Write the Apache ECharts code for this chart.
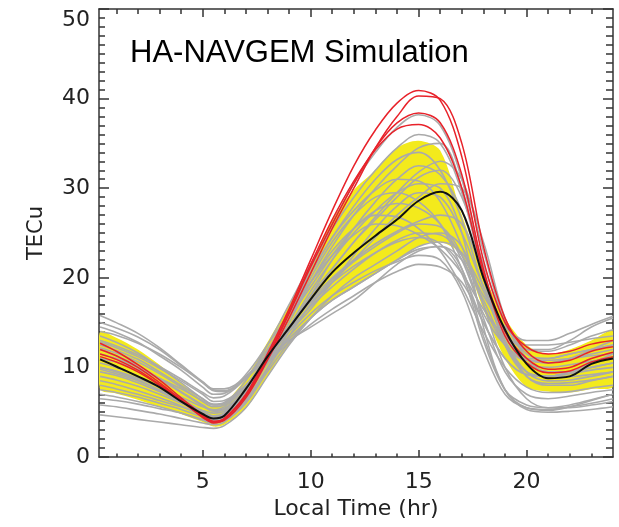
<!doctype html>
<html>
<head>
<meta charset="UTF-8">
<title>HA-NAVGEM Simulation</title>
<style>
  html, body { margin: 0; padding: 0; background: #fff; }
  #main { width: 619px; height: 527px; }
</style>
</head>
<body>
<div id="main"></div>
<script src="https://cdn.jsdelivr.net/npm/echarts@6.0.0/dist/echarts.min.js"></script>
<script>
// local time samples (hr) shared by every run
var hours = [0.25, 1, 2, 3, 4, 5, 5.5, 6, 7, 8, 9, 10, 11, 12, 13, 14, 15, 16, 17, 18, 19, 20, 21, 22, 23, 24];

var xMajorTicks = [5, 10, 15, 20];
var xMinorTicks = [1, 2, 3, 4, 6, 7, 8, 9, 11, 12, 13, 14, 16, 17, 18, 19, 21, 22, 23];

// ensemble mean (black)
var meanTec = [10.9, 10.1, 9.0, 7.8, 6.2, 4.8, 4.3, 4.6, 7.6, 11.2, 14.4, 17.6, 20.6, 22.8, 24.7, 26.5, 28.6, 29.6, 27.5, 20.0, 14.2, 10.4, 8.8, 9.0, 10.4, 11.0];

// yellow spread band
var bandLow = [7.6, 7.1, 6.4, 5.6, 4.8, 3.9, 3.4, 3.6, 5.4, 9.0, 12.5, 15.5, 17.5, 19.0, 20.5, 22.0, 23.5, 24.0, 22.5, 16.5, 11.0, 7.8, 7.3, 7.2, 7.6, 7.9];
var bandHigh = [14.0, 13.3, 12.0, 10.3, 8.3, 6.3, 5.6, 6.0, 8.8, 12.8, 17.0, 21.5, 26.5, 29.8, 32.0, 34.5, 35.3, 34.2, 27.0, 20.5, 15.5, 12.5, 11.5, 12.0, 13.0, 14.0];

// red members
var red1 = [12.7, 11.8, 10.3, 8.6, 6.6, 4.7, 4.0, 4.3, 7.0, 11.5, 16.5, 22.0, 27.5, 32.5, 36.5, 39.5, 40.9, 39.8, 33.5, 22.0, 15.0, 12.3, 11.5, 11.8, 12.6, 13.0];
var red2 = [11.2, 10.6, 9.5, 8.0, 6.3, 4.6, 3.9, 4.1, 6.6, 10.8, 15.5, 20.5, 25.5, 30.0, 34.5, 38.0, 40.3, 40.0, 35.0, 23.5, 15.5, 11.8, 10.5, 10.8, 11.8, 12.3];
var red3 = [12.0, 11.3, 10.0, 8.3, 6.4, 4.5, 3.8, 4.2, 6.8, 11.0, 16.0, 21.2, 26.0, 30.5, 34.5, 37.3, 38.4, 37.3, 31.5, 21.0, 14.0, 11.0, 9.8, 10.0, 11.0, 11.7];
var red4 = [11.5, 10.9, 9.7, 8.1, 6.3, 4.4, 3.9, 4.3, 6.9, 11.2, 16.2, 21.5, 26.5, 30.8, 34.3, 36.6, 37.1, 35.6, 30.0, 20.5, 13.5, 10.5, 9.4, 9.6, 10.6, 11.2];

// gray members
var gray01 = [15.8, 15.0, 13.8, 12.2, 10.3, 8.4, 7.6, 7.6, 9.0, 11.5, 14.0, 16.5, 19.5, 22.5, 25.5, 28.0, 29.5, 29.0, 25.0, 19.0, 14.0, 12.0, 12.0, 13.0, 14.5, 15.5];
var gray02 = [15.0, 14.4, 13.4, 12.0, 10.2, 8.3, 7.5, 7.4, 8.8, 11.0, 13.0, 14.5, 16.0, 17.5, 19.5, 21.5, 23.0, 23.5, 22.0, 17.5, 12.5, 9.5, 9.0, 9.5, 10.5, 11.5];
var gray03 = [4.7, 4.5, 4.2, 3.9, 3.6, 3.3, 3.2, 3.5, 5.5, 9.0, 12.5, 15.5, 18.0, 20.0, 21.5, 23.0, 24.5, 25.0, 23.5, 17.0, 10.0, 6.5, 5.5, 5.5, 5.8, 6.2];
var gray04 = [6.5, 6.3, 5.9, 5.4, 4.9, 4.2, 3.9, 4.2, 6.4, 10.0, 14.0, 18.0, 22.0, 25.5, 28.5, 31.0, 32.5, 31.5, 27.5, 20.0, 13.0, 9.0, 8.0, 8.0, 8.5, 9.0];
var gray05 = [13.5, 12.8, 11.6, 10.0, 8.3, 6.5, 5.8, 6.0, 8.5, 12.5, 17.0, 21.5, 25.5, 29.0, 32.0, 34.5, 36.0, 35.0, 29.5, 20.5, 14.0, 11.0, 10.5, 11.0, 12.0, 13.0];
var gray06 = [9.5, 9.1, 8.3, 7.3, 6.2, 5.2, 4.9, 5.1, 7.5, 11.5, 15.5, 19.5, 23.0, 25.5, 27.0, 26.8, 25.5, 23.0, 19.0, 14.0, 10.0, 7.8, 7.2, 7.3, 7.7, 8.0];
var gray07 = [12.0, 11.3, 10.2, 8.8, 7.3, 5.8, 5.2, 5.4, 7.5, 10.8, 14.0, 17.0, 19.5, 22.0, 24.5, 27.0, 29.0, 30.5, 30.0, 24.0, 15.5, 11.0, 9.5, 9.5, 10.0, 10.5];
var gray08 = [8.0, 7.6, 7.0, 6.3, 5.6, 4.8, 4.5, 4.8, 7.0, 10.5, 13.5, 16.0, 18.0, 19.5, 20.8, 21.8, 22.5, 22.0, 18.5, 12.0, 7.0, 5.5, 5.3, 5.6, 6.0, 6.5];
var gray09 = [10.5, 10.0, 9.0, 7.8, 6.5, 5.1, 4.6, 4.9, 7.5, 11.8, 16.2, 20.5, 24.5, 28.0, 31.0, 33.2, 34.0, 32.0, 26.5, 19.0, 13.5, 11.0, 10.5, 11.0, 11.5, 12.0];
var gray10 = [11.0, 10.6, 9.8, 8.8, 7.6, 6.3, 5.8, 6.0, 7.8, 10.5, 13.2, 15.5, 17.5, 19.0, 20.5, 22.0, 23.5, 24.0, 22.8, 18.5, 13.0, 9.5, 8.5, 8.6, 9.0, 9.5];
var gray11 = [13.0, 12.4, 11.4, 10.1, 8.7, 7.2, 6.6, 6.8, 8.8, 12.0, 15.5, 19.0, 22.5, 25.5, 27.5, 28.3, 27.8, 26.0, 22.0, 16.0, 12.5, 11.0, 11.0, 11.5, 12.0, 12.5];
var gray12 = [7.0, 6.7, 6.2, 5.6, 4.9, 4.1, 3.8, 4.1, 6.2, 9.8, 13.5, 17.0, 19.8, 21.8, 23.5, 25.0, 26.0, 25.7, 22.5, 15.5, 9.5, 7.0, 6.5, 6.8, 7.2, 7.5];
var gray13 = [12.5, 11.9, 10.9, 9.5, 8.0, 6.5, 5.9, 6.1, 8.0, 11.0, 14.5, 18.0, 21.0, 24.0, 26.5, 29.0, 31.2, 32.0, 29.0, 21.5, 15.0, 12.0, 11.8, 12.5, 13.5, 14.2];
var gray14 = [9.0, 8.6, 7.9, 7.0, 6.0, 4.8, 4.3, 4.6, 7.0, 11.0, 15.5, 20.0, 24.0, 27.0, 29.0, 29.5, 28.5, 26.0, 21.0, 15.0, 11.0, 9.2, 9.0, 9.3, 9.7, 10.0];
var gray15 = [5.8, 5.6, 5.2, 4.8, 4.3, 3.8, 3.6, 3.9, 6.0, 9.5, 12.8, 15.5, 17.5, 19.0, 20.5, 22.0, 23.2, 23.5, 21.0, 13.5, 7.5, 5.3, 5.0, 5.1, 5.3, 5.6];
var gray16 = [14.0, 13.6, 12.7, 11.5, 10.0, 8.3, 7.4, 7.3, 8.8, 11.5, 14.2, 16.8, 19.0, 21.0, 22.8, 24.2, 25.0, 24.8, 22.5, 18.0, 14.5, 13.0, 13.0, 13.8, 14.8, 15.7];
var gray17 = [10.0, 9.5, 8.6, 7.4, 6.1, 4.8, 4.4, 4.7, 7.2, 11.5, 16.0, 21.0, 26.0, 30.5, 34.0, 36.8, 38.2, 37.0, 31.0, 21.0, 13.5, 10.5, 10.0, 10.3, 10.7, 11.0];
var gray18 = [11.5, 11.0, 10.0, 8.7, 7.2, 5.7, 5.1, 5.3, 7.5, 11.0, 14.5, 17.5, 20.0, 22.0, 23.8, 25.2, 26.3, 27.0, 26.0, 20.0, 12.5, 9.0, 8.2, 8.3, 8.6, 9.0];
var gray19 = [8.5, 8.1, 7.4, 6.6, 5.7, 4.6, 4.1, 4.4, 6.7, 10.5, 14.5, 18.5, 22.0, 25.0, 27.5, 29.5, 30.5, 30.0, 25.0, 14.5, 7.5, 5.5, 5.2, 5.6, 6.3, 7.0];
var gray20 = [12.8, 12.2, 11.2, 9.9, 8.5, 7.0, 6.2, 6.3, 8.0, 10.5, 12.8, 14.8, 16.5, 18.0, 19.5, 20.7, 21.5, 21.2, 19.5, 15.0, 11.0, 9.2, 9.0, 9.5, 10.0, 10.5];
var gray21 = [10.0, 9.6, 8.8, 7.8, 6.7, 5.6, 5.3, 5.6, 7.8, 11.0, 14.5, 18.0, 21.0, 24.0, 26.8, 29.5, 31.8, 33.0, 31.0, 23.0, 15.0, 11.5, 11.0, 11.5, 12.0, 12.5];
var gray22 = [14.5, 13.9, 12.8, 11.3, 9.7, 7.8, 7.0, 7.1, 9.2, 12.5, 16.0, 19.5, 22.5, 24.8, 26.0, 25.8, 24.8, 23.2, 20.5, 16.5, 13.5, 12.5, 12.5, 12.8, 13.2, 13.5];
var gray23 = [7.5, 7.2, 6.7, 6.0, 5.3, 4.5, 4.2, 4.5, 6.8, 10.8, 15.0, 19.5, 23.5, 27.0, 30.0, 32.5, 34.5, 35.0, 30.0, 20.0, 12.5, 9.5, 9.0, 9.0, 9.2, 9.5];
var gray24 = [12.2, 11.6, 10.6, 9.3, 7.8, 6.2, 5.6, 5.8, 8.0, 11.3, 14.5, 17.3, 19.5, 21.3, 22.8, 24.0, 24.5, 23.8, 20.5, 13.0, 7.5, 5.8, 5.5, 5.8, 6.4, 7.0];
var gray25 = [9.8, 9.3, 8.5, 7.5, 6.3, 5.0, 4.6, 4.9, 7.4, 11.5, 16.0, 20.5, 24.5, 27.5, 29.8, 31.0, 30.8, 28.5, 23.5, 17.0, 12.5, 10.8, 10.8, 11.0, 11.3, 11.5];

var grayRuns = [gray01, gray02, gray03, gray04, gray05, gray06, gray07, gray08, gray09, gray10,
                gray11, gray12, gray13, gray14, gray15, gray16, gray17, gray18, gray19, gray20,
                gray21, gray22, gray23, gray24, gray25];
var redRuns = [red1, red2, red3, red4];

var FONT = 'DejaVu Sans';
var AXIS_COLOR = '#333';

function pairs(vals) {
  return hours.map(function (h, i) { return [h, vals[i]]; });
}

function run(vals, color, width) {
  return {
    type: 'line',
    data: pairs(vals),
    smooth: 0.35,
    symbol: 'none',
    silent: true,
    lineStyle: { color: color, width: width }
  };
}

var series = [];
// yellow band as one closed polygon: upper edge forward, lower edge back
series.push({
  type: 'custom',
  silent: true,
  clip: true,
  data: [[hours[0], bandLow[0]]],
  renderItem: function (params, api) {
    var pts = [];
    for (var i = 0; i < hours.length; i++) pts.push(api.coord([hours[i], bandHigh[i]]));
    for (var j = hours.length - 1; j >= 0; j--) pts.push(api.coord([hours[j], bandLow[j]]));
    return {
      type: 'polygon',
      shape: { points: pts, smooth: 0.3 },
      style: { fill: '#f3ea1c', stroke: null }
    };
  }
});
grayRuns.forEach(function (r) { series.push(run(r, '#aaaaaa', 1.6)); });
redRuns.forEach(function (r) { series.push(run(r, '#e8222a', 1.5)); });
series.push(run(meanTec, '#111111', 2));

var myChart = echarts.init(document.getElementById('main'), null, { renderer: 'canvas' });

var option = {
  animation: false,
  backgroundColor: '#fff',
  grid: { left: 99, right: 6, top: 9, bottom: 70 },
  xAxis: [
    {
      type: 'value', position: 'bottom', min: 0.2, max: 24,
      axisLine: { lineStyle: { color: AXIS_COLOR, width: 1.5 } },
      axisTick: { inside: true, length: 7, customValues: xMajorTicks, lineStyle: { color: AXIS_COLOR, width: 1.5 } },
      axisLabel: { customValues: xMajorTicks, margin: 14, fontSize: 22, fontFamily: FONT, color: '#222' },
      splitLine: { show: false },
      name: 'Local Time (hr)', nameLocation: 'middle', nameGap: 40,
      nameTextStyle: { fontSize: 22, fontFamily: FONT, color: '#222' }
    },
    {
      type: 'value', position: 'bottom', min: 0.2, max: 24,
      axisLine: { show: false },
      axisTick: { inside: true, length: 3.5, customValues: xMinorTicks, lineStyle: { color: AXIS_COLOR, width: 1.5 } },
      axisLabel: { show: false },
      splitLine: { show: false }
    },
    {
      type: 'value', position: 'top', min: 0.2, max: 24,
      axisLine: { lineStyle: { color: AXIS_COLOR, width: 1.5 } },
      axisTick: { inside: true, length: 8, customValues: xMajorTicks, lineStyle: { color: AXIS_COLOR, width: 1.5 } },
      axisLabel: { show: false },
      splitLine: { show: false }
    },
    {
      type: 'value', position: 'top', min: 0.2, max: 24,
      axisLine: { show: false },
      axisTick: { inside: true, length: 5, customValues: xMinorTicks, lineStyle: { color: AXIS_COLOR, width: 1.5 } },
      axisLabel: { show: false },
      splitLine: { show: false }
    }
  ],
  yAxis: [
    {
      type: 'value', position: 'left', min: 0, max: 50, interval: 10,
      axisLine: { show: true, lineStyle: { color: AXIS_COLOR, width: 1.5 } },
      axisTick: { show: true, inside: true, length: 10, lineStyle: { color: AXIS_COLOR, width: 1.5 } },
      minorTick: { show: true, splitNumber: 10, length: 6, lineStyle: { color: AXIS_COLOR, width: 1.5 } },
      axisLabel: { margin: 9, fontSize: 22, fontFamily: FONT, color: '#222', verticalAlignMaxLabel: 'top' },
      splitLine: { show: false },
      name: 'TECu', nameLocation: 'middle', nameGap: 52,
      nameTextStyle: { fontSize: 21, fontFamily: FONT, color: '#222' }
    },
    {
      type: 'value', position: 'right', min: 0, max: 50, interval: 10,
      axisLine: { show: true, lineStyle: { color: AXIS_COLOR, width: 1.5 } },
      axisTick: { show: true, inside: true, length: 10, lineStyle: { color: AXIS_COLOR, width: 1.5 } },
      minorTick: { show: true, splitNumber: 10, length: 7, lineStyle: { color: AXIS_COLOR, width: 1.5 } },
      axisLabel: { show: false },
      splitLine: { show: false }
    }
  ],
  graphic: [{
    type: 'text', left: 130, top: 38, z: 100,
    style: {
      text: 'HA-NAVGEM Simulation',
      font: '31px "Liberation Sans", Arial, sans-serif',
      fill: '#000'
    }
  }],
  series: series
};

myChart.setOption(option);
</script>
</body>
</html>
